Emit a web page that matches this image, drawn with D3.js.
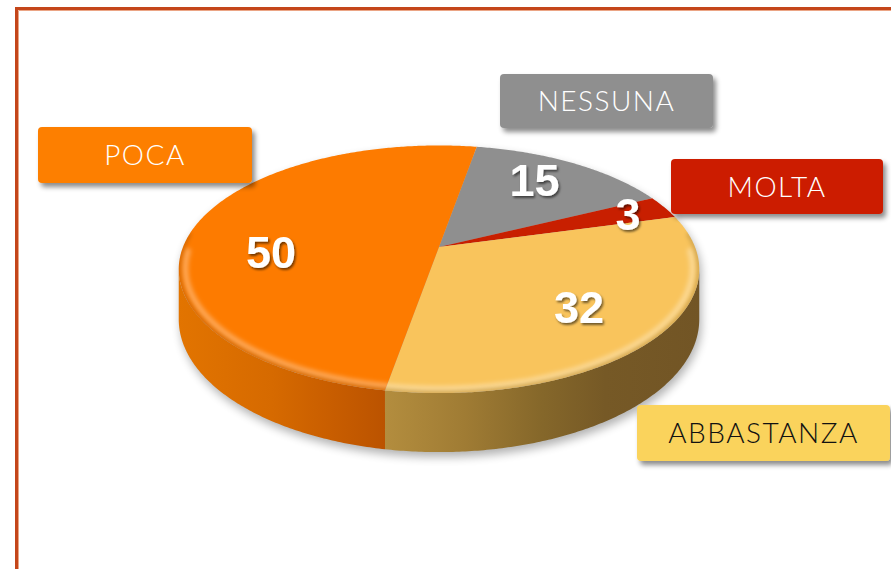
<!DOCTYPE html>
<html>
<head>
<meta charset="utf-8">
<script src="https://cdn.jsdelivr.net/npm/d3@7"></script>
<style>
  body { margin: 0; background: #fff; }
</style>
</head>
<body>
<div id="chart"></div>
<script>
// data, clockwise from the back of the pie
var categories = ["NESSUNA", "MOLTA", "ABBASTANZA", "POCA"];
var values = [15, 3, 32, 50];
var topColors = ["#8f8f8f", "#c81f00", "#f9c45c", "#fd7b00"];
var boxColors = ["#8f8f8f", "#cc1f00", "#fad35c", "#fd7f00"];
var boxText = ["#fff", "#fff", "#111", "#fff"];

// callout boxes (x, y, w, h) and label nudges
var boxes = {
  "POCA": [38, 127, 214, 56],
  "NESSUNA": [500, 74, 213, 54],
  "MOLTA": [671, 159, 212, 55],
  "ABBASTANZA": [637, 405, 253, 56]
};
var nudge = { "POCA": 19, "NESSUNA": -8, "MOLTA": 0, "ABBASTANZA": 0 };

var width = 891, height = 569;

var svg = d3.select("#chart").append("svg")
  .attr("width", width)
  .attr("height", height);

var defs = svg.append("defs");

// frame
svg.append("path")
  .attr("d", "M16.5," + height + "V8.5H" + width)
  .attr("fill", "none").attr("stroke", "#c4461a").attr("stroke-width", 3);
svg.append("path")
  .attr("d", "M18.5," + height + "V10.5H" + width)
  .attr("fill", "none").attr("stroke", "#eba585").attr("stroke-width", 1);

// perspective projection of the pie disc
var cx = 439, cy = 247, A = 256, B = 119.8, k = 0.18, depth = 48.4;
function P(phi, r, z) {
  var u = r * Math.sin(phi), v = r * Math.cos(phi);
  var s = 1 / (1 + k * v);
  return [cx + A * u * s, cy - B * v * s + depth * z * s];
}
function arcPts(a0, a1, r, z) {
  var n = Math.max(2, Math.ceil(Math.abs(a1 - a0) / 0.01));
  return d3.range(n + 1).map(function(i) { return P(a0 + (a1 - a0) * i / n, r, z); });
}
function pts(list) { return list.map(function(p) { return p[0].toFixed(2) + "," + p[1].toFixed(2); }).join("L"); }
var deg = Math.PI / 180;

var pie = d3.pie().sort(null).startAngle(10 * deg).endAngle(370 * deg);
var arcs = pie(values);

// silhouette angles: side wall is visible between them
var phiR = Math.acos(-k), phiL = 2 * Math.PI - phiR;

// filters
var sh = defs.append("filter").attr("id", "pieShadow")
  .attr("x", "-20%").attr("y", "-20%").attr("width", "140%").attr("height", "140%");
sh.append("feGaussianBlur").attr("stdDeviation", 5);

var bs = defs.append("filter").attr("id", "boxShadow")
  .attr("x", "-20%").attr("y", "-30%").attr("width", "140%").attr("height", "170%");
bs.append("feDropShadow").attr("dx", 3).attr("dy", 4).attr("stdDeviation", 2.5)
  .attr("flood-color", "#000").attr("flood-opacity", 0.45);

var ts = defs.append("filter").attr("id", "txtShadow")
  .attr("x", "-30%").attr("y", "-30%").attr("width", "160%").attr("height", "160%");
ts.append("feDropShadow").attr("dx", 1.5).attr("dy", 2).attr("stdDeviation", 1.2)
  .attr("flood-color", "#000").attr("flood-opacity", 0.55);

var bl = defs.append("filter").attr("id", "rimBlur")
  .attr("x", "-10%").attr("y", "-10%").attr("width", "120%").attr("height", "120%");
bl.append("feGaussianBlur").attr("stdDeviation", 2.2);

// shadow under pie
var fullTop = "M" + pts(arcPts(0, 2 * Math.PI, 1, 0)) + "Z";
var fullWall = "M" + pts(arcPts(phiR, phiL, 1, 0).concat(arcPts(phiL, phiR, 1, 1))) + "Z";
var shadowG = svg.append("g").attr("filter", "url(#pieShadow)")
  .attr("transform", "translate(2,5)").attr("opacity", 0.3);
shadowG.append("path").attr("d", fullTop).attr("fill", "#000");
shadowG.append("path").attr("d", fullWall).attr("fill", "#000");

// side wall gradients, stops left -> right
var wallStops = {
  "POCA": [[0, "#e27400"], [0.45, "#d66a00"], [0.75, "#c85d00"], [1, "#bb5300"]],
  "ABBASTANZA": [[0, "#b38d3e"], [0.25, "#a07c34"], [0.5, "#85672a"], [0.7, "#765926"], [1, "#725525"]],
  "MOLTA": [[0, "#8a1500"], [1, "#7a1200"]],
  "NESSUNA": [[0, "#666"], [1, "#555"]]
};

arcs.forEach(function(d, i) {
  var a0 = Math.max(d.startAngle, phiR), a1 = Math.min(d.endAngle, phiL);
  if (a1 <= a0) return;
  var top = arcPts(a0, a1, 1, 0), bot = arcPts(a1, a0, 1, 1);
  var xs = top.map(function(p) { return p[0]; });
  var g = defs.append("linearGradient").attr("id", "wall" + i)
    .attr("gradientUnits", "userSpaceOnUse")
    .attr("x1", d3.min(xs)).attr("x2", d3.max(xs)).attr("y1", 0).attr("y2", 0);
  wallStops[categories[i]].forEach(function(s) {
    g.append("stop").attr("offset", s[0]).attr("stop-color", s[1]);
  });
  svg.append("path")
    .attr("d", "M" + pts(top.concat(bot)) + "Z")
    .attr("fill", "url(#wall" + i + ")");
});

// top faces
var topG = svg.append("g");
arcs.forEach(function(d, i) {
  var c = P(0, 0, 0);
  topG.append("path")
    .attr("d", "M" + c[0] + "," + c[1] + "L" + pts(arcPts(d.startAngle, d.endAngle, 1, 0)) + "Z")
    .attr("fill", topColors[i]);
});

// bevel on the front rim
defs.append("clipPath").attr("id", "topClip").append("path").attr("d", fullTop);
var rim = svg.append("g").attr("clip-path", "url(#topClip)");
rim.append("path")
  .attr("d", "M" + pts(arcPts(92 * deg, 268 * deg, 0.975, 0)))
  .attr("fill", "none").attr("stroke", "#fff").attr("stroke-opacity", 0.32)
  .attr("stroke-width", 6).attr("stroke-linecap", "round").attr("filter", "url(#rimBlur)");
rim.append("path")
  .attr("d", "M" + pts(arcPts(phiR - 0.3, phiL + 0.3, 1, 0)))
  .attr("fill", "none").attr("stroke", "#000").attr("stroke-opacity", 0.18)
  .attr("stroke-width", 4).attr("filter", "url(#rimBlur)");

// value labels
arcs.forEach(function(d, i) {
  var mid = (d.startAngle + d.endAngle) / 2;
  var r = values[i] < 5 ? 0.83 : 0.68;
  var p = P(mid, r, 0);
  svg.append("text")
    .attr("x", p[0]).attr("y", p[1] + nudge[categories[i]])
    .attr("dy", "0.36em")
    .attr("text-anchor", "middle")
    .attr("font-family", "'Liberation Sans', Arial, sans-serif")
    .attr("font-weight", "bold")
    .attr("font-size", 45)
    .attr("fill", "#fff")
    .attr("filter", "url(#txtShadow)")
    .text(values[i]);
});

// category callouts
categories.forEach(function(c, i) {
  var b = boxes[c];
  var g = svg.append("g");
  g.append("rect")
    .attr("x", b[0]).attr("y", b[1]).attr("width", b[2]).attr("height", b[3])
    .attr("rx", 4).attr("fill", boxColors[i])
    .attr("filter", "url(#boxShadow)");
  g.append("text")
    .attr("x", b[0] + b[2] / 2).attr("y", b[1] + b[3] / 2)
    .attr("dy", "0.36em")
    .attr("text-anchor", "middle")
    .attr("font-family", "Lato, 'Open Sans', sans-serif")
    .attr("font-weight", 300)
    .attr("font-size", 28)
    .attr("letter-spacing", 1.5)
    .attr("fill", boxText[i])
    .text(c);
});
</script>
</body>
</html>
